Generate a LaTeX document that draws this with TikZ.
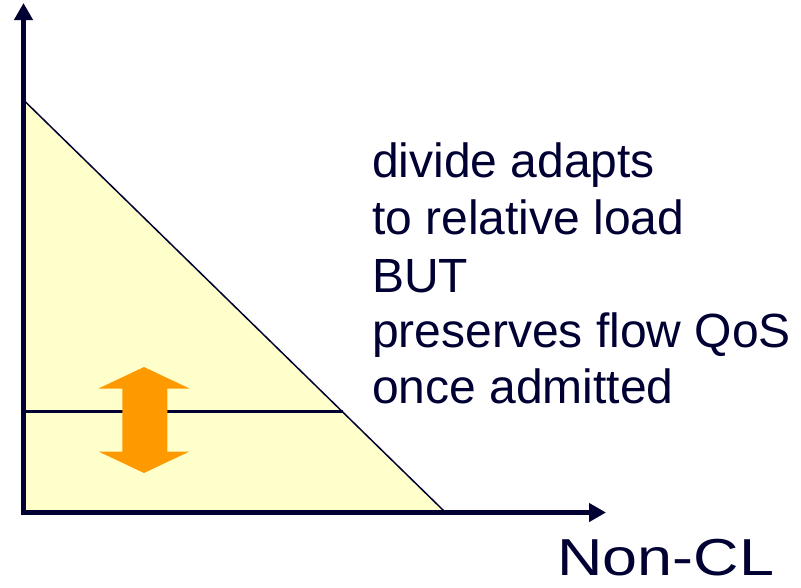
\documentclass[tikz,border=0pt]{standalone}
\usepackage{fontspec}
\setmainfont{Liberation Sans}
\usetikzlibrary{arrows.meta}
\definecolor{navy}{HTML}{000033}
\definecolor{paleyellow}{HTML}{FFFFCC}
\definecolor{arroworange}{HTML}{FF9900}
\tikzset{
  axisline/.style={draw=navy, line width=5pt, -{Triangle[length=17pt,width=18pt]}},
  bodytext/.style={anchor=base west, inner sep=0pt, text=navy, font=\fontsize{48}{56}\selectfont},
}
\begin{document}
\begin{tikzpicture}[x=1pt,y=-1pt]
\useasboundingbox (0,0) rectangle (801,587);
% region
\coordinate (top) at (23.5,100);
\coordinate (right) at (445,512);
\coordinate (origin) at (23.5,512);
\fill[paleyellow] (top) -- (right) -- (origin) -- cycle;
\draw[navy, line width=1.5pt] (top) -- (right);
% level line
\coordinate (lvlL) at (23.5,411.5);
\coordinate (lvlR) at (342.5,411.5);
\draw[navy, line width=3.5pt] (lvlL) -- (lvlR);
% orange double arrow
\fill[arroworange] (144,367) -- (189.5,388.5) -- (167.3,388.5) -- (167.3,451.5) -- (189.5,451.5)
  -- (144,473) -- (98.5,451.5) -- (122.3,451.5) -- (122.3,388.5) -- (98.5,388.5) -- cycle;
% axes
\coordinate (ytip) at (23.5,3);
\coordinate (xtip) at (606,512.5);
\coordinate (ybot) at (23.5,515);
\coordinate (xleft) at (21,512.5);
\draw[axisline] (ybot) -- (ytip);
\draw[axisline] (xleft) -- (xtip);
% texts
\node[bodytext] (t1) at (372,177) {divide adapts};
\node[bodytext] (t2) at (372,234) {to relative load};
\node[bodytext] (t3) at (372,292) {BUT};
\node[bodytext] (t4) at (372,347.5) {preserves flow QoS};
\node[bodytext] (t5) at (372,403) {once admitted};
\node[anchor=base west, inner sep=0pt, text=navy, font=\fontsize{52}{60}\selectfont, xscale=1.21] (xlabel) at (557,575) {Non-CL};
\end{tikzpicture}
\end{document}
